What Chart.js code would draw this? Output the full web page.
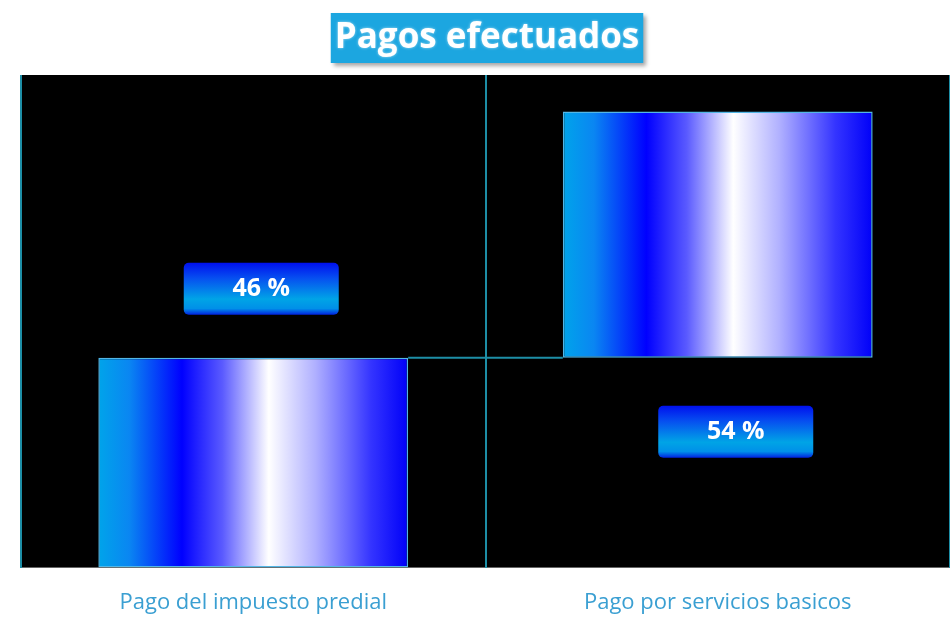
<!DOCTYPE html>
<html>
<head>
<meta charset="utf-8">
<script src="https://cdn.jsdelivr.net/npm/chart.js@4"></script>
<style>
    html, body { margin: 0; padding: 0; background: #ffffff; overflow: hidden; }
    #wrap { width: 950px; height: 638px; }
</style>
</head>
<body>
<div id="wrap"><canvas id="pagosChart"></canvas></div>
<script>
var titulo = 'Pagos efectuados';
var categorias = ['Pago del impuesto predial', 'Pago por servicios basicos'];
var porcentajes = [46, 54];

// waterfall: each bar starts where the previous one ended
var tramos = [];
var acumulado = 0;
porcentajes.forEach(function (p) {
    tramos.push([acumulado, acumulado + p]);
    acumulado += p;
});

var catPct = 0.667;

function barGradient(ctx) {
    var chart = ctx.chart;
    var area = chart.chartArea;
    if (!area || !chart.scales.x) return '#0000ff';
    var cx = chart.scales.x.getPixelForValue(ctx.dataIndex);
    var half = area.width / categorias.length * catPct / 2;
    var g = chart.ctx.createLinearGradient(cx - half, 0, cx + half, 0);
    g.addColorStop(0, '#00a4ea');
    g.addColorStop(0.1, '#0a86f2');
    g.addColorStop(0.27, '#0000ff');
    g.addColorStop(0.4, '#5a5aff');
    g.addColorStop(0.55, '#ffffff');
    g.addColorStop(0.7, '#b0b0ff');
    g.addColorStop(0.88, '#3434ff');
    g.addColorStop(1, '#0000f8');
    return g;
}

// black plot area
var fondo = {
    id: 'fondo',
    beforeDraw: function (chart) {
        var a = chart.chartArea, c = chart.ctx;
        c.save();
        c.fillStyle = '#000000';
        c.fillRect(a.left, a.top, a.right - a.left, a.bottom - a.top);
        c.restore();
    }
};

// title box, connector line and value boxes
var adornos = {
    id: 'adornos',
    afterDatasetsDraw: function (chart) {
        var c = chart.ctx;
        var bars = chart.getDatasetMeta(0).data;
        var ys = chart.scales.y;

        // connector between bars
        c.save();
        c.strokeStyle = '#1d8ea6';
        c.lineWidth = 2;
        for (var i = 0; i < bars.length - 1; i++) {
            var y = ys.getPixelForValue(tramos[i][1]);
            c.beginPath();
            c.moveTo(bars[i].x + bars[i].width / 2, y);
            c.lineTo(bars[i + 1].x - bars[i + 1].width / 2, y);
            c.stroke();
        }
        c.restore();

        // value boxes: first above its bar, the rest below their base
        bars.forEach(function (bar, i) {
            var bw = 155, bh = 52;
            var cx = bar.x + (i === 0 ? 8 : 18);
            var cy = i === 0 ? ys.getPixelForValue(tramos[i][1]) - 69
                             : ys.getPixelForValue(tramos[i][0]) + 74;
            var x0 = cx - bw / 2, y0 = cy - bh / 2;
            c.save();
            var g = c.createLinearGradient(0, y0, 0, y0 + bh);
            g.addColorStop(0, '#0010ee');
            g.addColorStop(0.3, '#0650f0');
            g.addColorStop(0.7, '#00a4e6');
            g.addColorStop(0.88, '#0090e8');
            g.addColorStop(1, '#0020e0');
            c.fillStyle = g;
            c.beginPath();
            c.roundRect(x0, y0, bw, bh, 5);
            c.fill();
            c.fillStyle = '#ffffff';
            c.font = 'bold 25px "Open Sans"';
            c.textAlign = 'center';
            c.textBaseline = 'middle';
            c.fillText(porcentajes[i] + ' %', cx, cy);
            c.restore();
        });

        // title
        c.save();
        var tx = 487, ty = 38;
        c.font = 'bold 35px "Open Sans"';
        var tw = c.measureText(titulo).width;
        var boxW = Math.max(309, tw + 8);
        c.shadowColor = 'rgba(0,0,0,0.35)';
        c.shadowOffsetX = 3;
        c.shadowOffsetY = 3;
        c.shadowBlur = 4;
        c.fillStyle = '#1ca6e0';
        c.fillRect(tx - boxW / 2, 13, boxW, 50);
        c.shadowColor = 'rgba(255,255,255,0.6)';
        c.shadowOffsetX = 0;
        c.shadowOffsetY = 0;
        c.shadowBlur = 3;
        c.fillStyle = '#ffffff';
        c.textAlign = 'center';
        c.textBaseline = 'middle';
        c.fillText(titulo, tx, ty);
        c.restore();
    }
};

var ctx = document.getElementById('pagosChart').getContext('2d');
var pagosChart = new Chart(ctx, {
    type: 'bar',
    data: {
        labels: categorias,
        datasets: [{
            data: tramos,
            backgroundColor: barGradient,
            borderColor: '#52b6e6',
            borderWidth: 1.5,
            borderSkipped: false,
            barPercentage: 1,
            categoryPercentage: catPct
        }]
    },
    options: {
        responsive: true,
        maintainAspectRatio: false,
        animation: false,
        layout: {
            padding: { left: 21, right: 0, top: 75, bottom: 0 }
        },
        plugins: {
            legend: { display: false },
            tooltip: { enabled: false },
            title: { display: false }
        },
        scales: {
            x: {
                grid: {
                    offset: true,
                    color: '#1d8ea6',
                    lineWidth: 2,
                    drawTicks: false
                },
                border: { display: false },
                ticks: {
                    color: '#3a9fd2',
                    padding: 22,
                    font: { family: '"Open Sans"', size: 22 }
                }
            },
            y: {
                display: false,
                min: 0,
                max: 108
            }
        }
    },
    plugins: [fondo, adornos]
});
</script>
</body>
</html>
